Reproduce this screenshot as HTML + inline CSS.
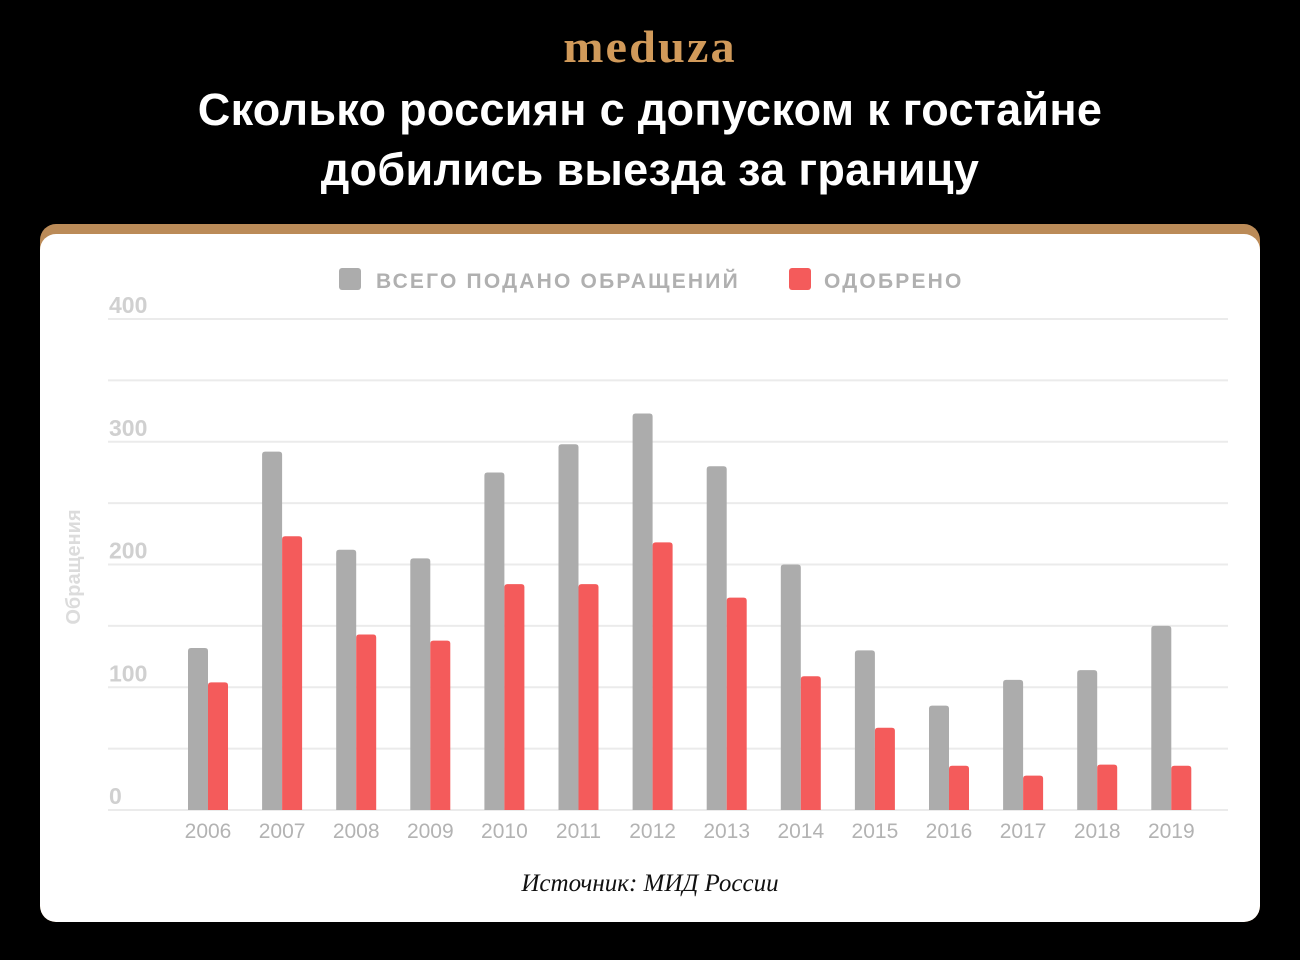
<!DOCTYPE html>
<html><head><meta charset="utf-8"><style>
html,body{margin:0;padding:0;background:#000;width:1300px;height:960px;overflow:hidden;font-family:"Liberation Sans","DejaVu Sans",sans-serif}
#logo{position:absolute;left:0;width:1300px;top:22px;text-align:center;color:#d19a5a;font-family:"Liberation Serif",serif;font-weight:900;font-size:46px;line-height:50px;letter-spacing:2px;transform:scaleX(1.05)}
#title{position:absolute;left:0;width:1300px;top:80px;text-align:center;color:#fff;font-weight:bold;font-size:45px;line-height:60px;letter-spacing:0.3px}
#card{position:absolute;left:40px;top:224px;width:1220px;height:698px;background:#bb8b58;border-radius:16px;overflow:hidden}
#inner{position:absolute;left:0;top:10px;width:1220px;height:688px;background:#fff;border-radius:16px}
svg{position:absolute;left:0;top:0}
</style></head><body>
<div id="logo">meduza</div>
<div id="title">Сколько россиян с допуском к гостайне<br>добились выезда за границу</div>
<div id="card"><div id="inner"></div></div>
<svg id="chart" width="1300" height="960"></svg>
<script>
const years=["2006","2007","2008","2009","2010","2011","2012","2013","2014","2015","2016","2017","2018","2019"];
const totalApplied=[132,292,212,205,275,298,323,280,200,130,85,106,114,150];
const approved=[104,223,143,138,184,184,218,173,109,67,36,28,37,36];
const yTicks=[0,100,200,300,400];
const yMinor=[50,150,250,350];
const NS="http://www.w3.org/2000/svg";
const svg=document.getElementById('chart');
const y0=810,yScale=491/400;
function y(v){return y0-v*yScale;}
function x(i){return 208+i*74.1;}
function mk(t,a,p){const e=document.createElementNS(NS,t);for(const k in a)e.setAttribute(k,a[k]);(p||svg).appendChild(e);return e;}
const grid=mk('g',{});


yTicks.concat(yMinor).forEach(v=>{const l=mk('line',{x1:108,x2:1228,y1:y(v),y2:y(v),stroke:'#ebebeb','stroke-width':2},grid);

});
yTicks.forEach(v=>{const t=mk('text',{x:109,y:y(v)-6,fill:'#d0d0d0','font-size':23,'font-weight':'bold'});t.textContent=v;

});
const yt=mk('text',{x:0,y:0,fill:'#dcdcdc','font-size':20,'font-weight':'bold','text-anchor':'middle',transform:'translate(80,567) rotate(-90)'});
yt.textContent='Обращения';


function bar(x0,w,v,c,name){const h=v*yScale,r=3;
const p=mk('path',{d:`M${x0},${y0}V${y0-h+r}Q${x0},${y0-h} ${x0+r},${y0-h}H${x0+w-r}Q${x0+w},${y0-h} ${x0+w},${y0-h+r}V${y0}Z`,fill:c});

}
years.forEach((yr,i)=>{
bar(x(i)-20,20,totalApplied[i],'#acacac','bar-total-'+yr);
bar(x(i),20,approved[i],'#f45b5b','bar-approved-'+yr);
const t=mk('text',{x:x(i),y:838,fill:'#b3b3b3','font-size':21,'text-anchor':'middle'});t.textContent=yr;

});
const lg1=mk('rect',{x:339,y:268,width:22,height:22,rx:3,fill:'#acacac'});


const lt1=mk('text',{x:376,y:288,fill:'#b0b0b0','font-size':21,'font-weight':'bold','letter-spacing':'2.2'});lt1.textContent='ВСЕГО ПОДАНО ОБРАЩЕНИЙ';


const lg2=mk('rect',{x:789,y:268,width:22,height:22,rx:3,fill:'#f45b5b'});


const lt2=mk('text',{x:824,y:288,fill:'#b0b0b0','font-size':21,'font-weight':'bold','letter-spacing':'2.2'});lt2.textContent='ОДОБРЕНО';


const src=mk('text',{x:650,y:891,fill:'#111','font-size':25,'font-style':'italic','text-anchor':'middle','font-family':'"Liberation Serif",serif'});src.textContent='Источник: МИД России';


</script>
</body></html>
